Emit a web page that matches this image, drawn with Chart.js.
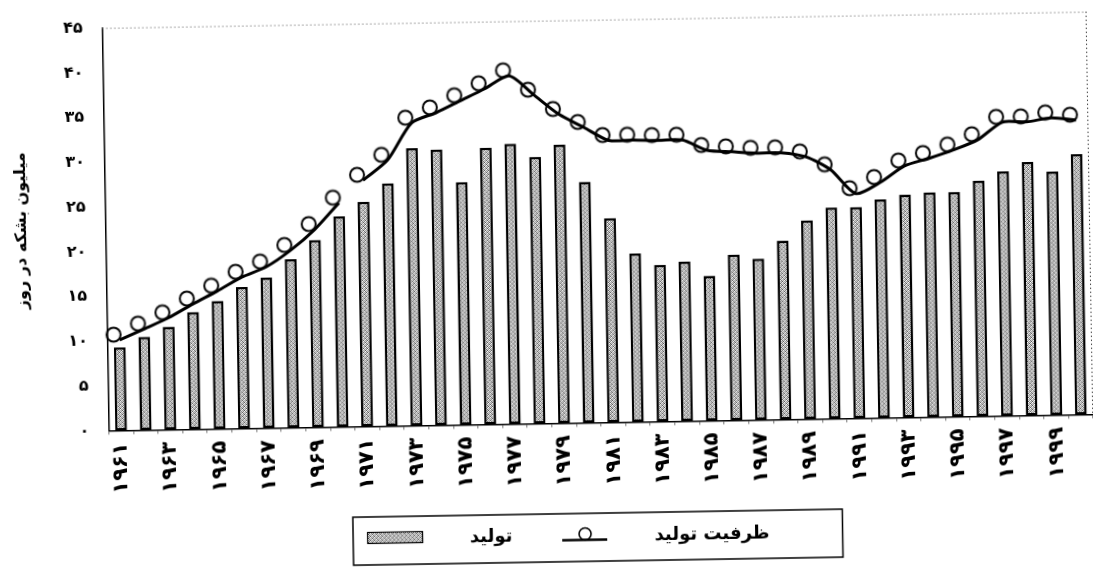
<!DOCTYPE html>
<html>
<head>
<meta charset="utf-8">
<script src="https://cdn.jsdelivr.net/npm/chart.js@4.4.1/dist/chart.umd.min.js"></script>
<style>
html,body{margin:0;padding:0;background:#fff;overflow:hidden;width:1093px;height:572px}
#wrap{position:absolute;left:0;top:0;width:1101px;height:572px;transform:rotate(-0.95deg);transform-origin:546.5px 286px}
canvas{display:block}
</style>
</head>
<body>
<div id="wrap"><canvas id="c" width="1101" height="572"></canvas></div>
<script>
// ---- data ----
const categories = [1961,1962,1963,1964,1965,1966,1967,1968,1969,1970,
                    1971,1972,1973,1974,1975,1976,1977,1978,1979,1980,
                    1981,1982,1983,1984,1985,1986,1987,1988,1989,1990,
                    1991,1992,1993,1994,1995,1996,1997,1998,1999,2000];
// production (bars), million barrels per day
const production = [9.3,10.4,11.5,13.1,14.3,15.8,16.8,18.8,20.9,23.5,
                    25.1,27.1,31.0,30.8,27.1,30.9,31.3,29.8,31.1,26.9,
                    22.8,18.8,17.5,17.8,16.2,18.5,18.0,20.0,22.2,23.6,
                    23.6,24.4,24.9,25.1,25.1,26.3,27.3,28.3,27.2,29.1];
// production capacity (line with circles)
const capacity = [10.1,11.3,12.5,14.0,15.4,16.9,18.0,19.8,22.1,25.0,
                  27.5,29.7,33.8,34.9,36.2,37.5,38.9,36.7,34.5,33.0,
                  31.5,31.5,31.4,31.4,30.2,30.0,29.8,29.8,29.3,27.8,
                  25.1,26.3,28.1,28.9,29.8,30.9,32.8,32.8,33.2,32.9];
const lineBreakAfter = [1970];          // the capacity line is interrupted after this year
const yTickValues = [0,5,10,15,20,25,30,35,40,45];
const seriesNames = ['تولید', 'ظرفیت تولید'];
const yTitle = 'میلیون بشکه در روز';

// ---- helpers ----
const FA = '۰۱۲۳۴۵۶۷۸۹';
const fa = v => String(v).replace(/\d/g, d => FA[+d]);
const FONT = '"DejaVu Sans", sans-serif';

function makePattern() {
  const p = document.createElement('canvas');
  p.width = 4; p.height = 4;
  const g = p.getContext('2d');
  const shades = [
    ['#ffffff','#6e6e6e','#d8d8d8','#9a9a9a'],
    ['#a0a0a0','#cfcfcf','#505050','#ededed'],
    ['#dcdcdc','#7a7a7a','#ffffff','#8c8c8c'],
    ['#5a5a5a','#e8e8e8','#b0b0b0','#c8c8c8']
  ];
  for (let y = 0; y < 4; y++) for (let x = 0; x < 4; x++) {
    g.fillStyle = shades[y][x]; g.fillRect(x, y, 1, 1);
  }
  return g.createPattern(p, 'repeat');
}
function makeMarker() {
  // open circle, printed slightly up-left of its point (as in the scan)
  const m = document.createElement('canvas');
  m.width = 34; m.height = 34;
  const g = m.getContext('2d');
  g.strokeStyle = '#000'; g.lineWidth = 2;
  g.beginPath(); g.arc(11, 11.5, 7, 0, Math.PI * 2); g.stroke();
  return m;
}
const barPattern = makePattern();
const marker = makeMarker();
const breakIdx = lineBreakAfter.map(y => categories.indexOf(y));

const framePlugin = {
  id: 'frame',
  beforeDatasetsDraw(chart) {
    const {ctx, chartArea: a} = chart;
    ctx.save();
    ctx.lineWidth = 1;
    ctx.setLineDash([1.5, 2.5]);
    ctx.strokeStyle = '#8a8a8a';
    ctx.beginPath(); ctx.moveTo(a.left, a.top + 0.5); ctx.lineTo(a.right, a.top + 0.5); ctx.stroke();
    ctx.strokeStyle = '#444';
    ctx.beginPath(); ctx.moveTo(a.right - 0.5, a.top); ctx.lineTo(a.right - 0.5, a.bottom); ctx.stroke();
    ctx.restore();
  }
};

const legendPlugin = {
  id: 'boxLegend',
  afterDraw(chart) {
    const ctx = chart.ctx;
    const lineDs = chart.data.datasets[0];
    const barDs = chart.data.datasets[1];
    ctx.save();
    ctx.strokeStyle = '#000';
    ctx.lineWidth = 1.5;
    ctx.strokeRect(349, 514, 489.5, 48);
    // bar swatch
    ctx.fillStyle = barDs.backgroundColor;
    ctx.fillRect(363.5, 529.5, 55, 11);
    ctx.lineWidth = 1.2;
    ctx.strokeRect(363.5, 529.5, 55, 11);
    ctx.fillStyle = '#000';
    ctx.font = 'bold 18px ' + FONT;
    ctx.textAlign = 'center';
    ctx.textBaseline = 'middle';
    ctx.direction = 'rtl';
    ctx.fillText(barDs.label, 487, 536);
    // line + circle symbol
    ctx.lineWidth = 2.5;
    ctx.beginPath(); ctx.moveTo(558, 540.5); ctx.lineTo(603, 540.5); ctx.stroke();
    ctx.lineWidth = 1.6;
    ctx.beginPath(); ctx.arc(581, 534.5, 6, 0, Math.PI * 2); ctx.stroke();
    ctx.fillText(lineDs.label, 708, 537.5);
    ctx.restore();
  }
};

new Chart(document.getElementById('c').getContext('2d'), {
  data: {
    labels: categories,
    datasets: [
      {
        type: 'line',
        label: seriesNames[1],
        data: capacity,
        borderColor: '#000',
        borderWidth: 3,
        tension: 0.25,
        fill: false,
        pointStyle: marker,
        pointRadius: 7,
        pointHoverRadius: 7,
        order: 0,
        segment: {
          borderColor: c => breakIdx.includes(c.p0DataIndex) ? 'rgba(0,0,0,0)' : '#000'
        }
      },
      {
        type: 'bar',
        label: seriesNames[0],
        data: production,
        backgroundColor: barPattern,
        borderColor: '#000',
        borderWidth: 2.5,
        borderSkipped: false,
        barPercentage: 0.48,
        categoryPercentage: 1,
        order: 1
      }
    ]
  },
  options: {
    responsive: false,
    animation: false,
    events: [],
    layout: {padding: {left: 0, right: 3, top: 20.6, bottom: 78.6}},
    plugins: {legend: {display: false}, tooltip: {enabled: false}},
    scales: {
      x: {
        type: 'category',
        offset: true,
        grid: {display: true, drawOnChartArea: false, drawTicks: true, tickLength: 4, color: '#777', offset: true},
        border: {display: true, color: '#000', width: 1.5},
        ticks: {
          autoSkip: false, minRotation: 90, maxRotation: 90, padding: 8, color: '#000',
          font: {family: FONT, size: 21, weight: 'bold'},
          callback: (v, i) => (categories[i] % 2 === 1 ? fa(categories[i]) : '')
        },
        afterFit: s => { s.height = 70; s.paddingLeft = 0; s.paddingRight = 0; }
      },
      y: {
        min: 0, max: 45,
        afterBuildTicks: s => { s.ticks = yTickValues.map(v => ({value: v})); },
        grid: {display: false, drawTicks: false},
        border: {display: true, color: '#000', width: 1.5},
        ticks: {padding: 19.5, color: '#000', font: {family: FONT, size: 16, weight: 'bold'}, callback: v => fa(v)},
        title: {display: true, text: yTitle, color: '#000', font: {family: FONT, size: 16, weight: 'bold'}, padding: {top: 13, bottom: 0}},
        afterFit: s => { s.width = 106.5; s.paddingTop = 0; s.paddingBottom = 0; }
      }
    }
  },
  plugins: [framePlugin, legendPlugin]
});
</script>
</body>
</html>
